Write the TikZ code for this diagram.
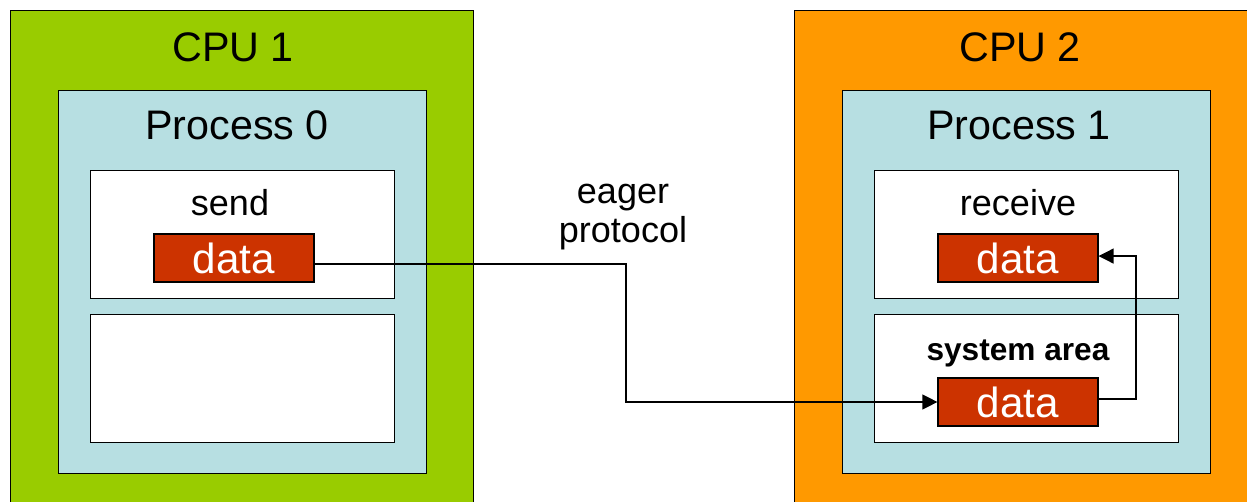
\documentclass[tikz,border=0pt]{standalone}
\usepackage{fontspec}
\setmainfont{Liberation Sans}
\usetikzlibrary{arrows.meta}
\definecolor{cpugreen}{HTML}{99CC00}
\definecolor{cpuorange}{HTML}{FF9900}
\definecolor{procblue}{HTML}{B7DFE2}
\definecolor{datared}{HTML}{CC3300}
\begin{document}
\begin{tikzpicture}[x=0.02cm,y=-0.02cm,
  cpubox/.style={draw,line width=0.7pt,anchor=north west,inner sep=0pt,minimum width=9.26cm,minimum height=10cm},
  procbox/.style={draw,line width=0.7pt,fill=procblue,anchor=north west,inner sep=0pt,minimum width=7.36cm,minimum height=7.66cm},
  slotbox/.style={draw,line width=0.7pt,fill=white,anchor=north west,inner sep=0pt,minimum width=6.08cm,minimum height=2.56cm},
  databox/.style={draw,line width=0.7pt,fill=datared,text=white,inner sep=0pt,minimum width=3.2cm,minimum height=0.96cm,font=\fontsize{24}{28}\selectfont},
  cputext/.style={anchor=base,inner sep=0pt,font=\fontsize{23.5}{28}\selectfont},
  tagtext/.style={anchor=base,inner sep=0pt,font=\fontsize{20.5}{22.7}\selectfont},
  msg/.style={-{Triangle[length=8.5pt,width=8.5pt]},line width=0.7pt}]
%% frame
\clip (0,0) rectangle (1247,502);
%% cpu 1
\node[cpubox,fill=cpugreen] (cpu1) at (10,10) {};
\node[procbox] (proc0) at (58,90) {};
\node[slotbox] (send) at (90,170) {};
\node[slotbox] (spare) at (90,314) {};
\node[databox] (sdata) at (234,258) {data};
\node[cputext] (cpu1text) at (233,62) {CPU 1};
\node[cputext] (proc0text) at (237,140) {Process 0};
\node[tagtext] (sendtext) at (230,216) {send};
%% cpu 2
\node[cpubox,fill=cpuorange] (cpu2) at (794,10) {};
\node[procbox] (proc1) at (842,90) {};
\node[slotbox] (recv) at (874,170) {};
\node[slotbox] (sys) at (874,314) {};
\node[databox] (rdata) at (1018,258) {data};
\node[databox] (ydata) at (1018,402) {data};
\node[cputext] (cpu2text) at (1020,62) {CPU 2};
\node[cputext] (proc1text) at (1019,140) {Process 1};
\node[tagtext] (recvtext) at (1018,216) {receive};
\node[tagtext,font=\bfseries\fontsize{18}{22}\selectfont] (systext) at (1018,361) {system area};
%% protocol
\node[tagtext,align=center] (eager) at (623,243) {eager\\protocol};
%% arrows
\coordinate (drop) at (626,330);
\coordinate (lift) at (1136,330);
\draw[msg] ([yshift=-3.4pt]sdata.east) -| (drop) |- (ydata.west);
\draw[msg] ([yshift=1.7pt]ydata.east) -| (lift) |- ([yshift=1.1pt]rdata.east);
\end{tikzpicture}
\end{document}
